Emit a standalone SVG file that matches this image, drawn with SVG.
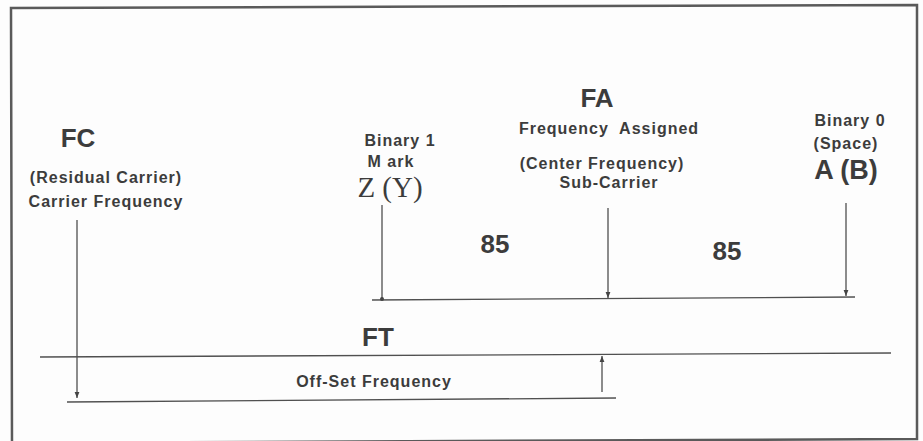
<svg xmlns="http://www.w3.org/2000/svg" width="923" height="441" viewBox="0 0 923 441">
<style>
.t{font-family:"Liberation Sans",Arial,sans-serif;font-weight:bold;fill:#3c3c3c;text-anchor:middle}
.s{font-size:16px;letter-spacing:1px}
.b{font-size:26px}
.ln{stroke:#505050;stroke-width:1.3;fill:none}
</style>
<defs>
<marker id="ah" viewBox="0 0 10 10" refX="10" refY="5" markerWidth="6" markerHeight="6" orient="auto" markerUnits="userSpaceOnUse">
<path d="M0,1 L10,5 L0,9 z" fill="#444"/>
</marker>
</defs>
<rect width="923" height="441" fill="#fdfdfd"/>
<polygon points="11,8 917,5 917,439 12,443" fill="none" stroke="#5a5a5a" stroke-width="2.5"/>

<g id="fc">
<text class="t b" x="78" y="147">FC</text>
<text class="t s" x="106" y="183">(Residual Carrier)</text>
<text class="t s" x="106" y="207">Carrier Frequency</text>
</g>
<g id="mark">
<text class="t s" x="400" y="146">Binary 1</text>
<text class="t s" x="391" y="167">M ark</text>
<text x="390" y="197" font-family="'Liberation Serif','Times New Roman',serif" font-size="29" fill="#3c3c3c" text-anchor="middle">Z (Y)</text>
</g>
<g id="fa">
<text class="t b" x="597" y="107">FA</text>
<text class="t s" x="609" y="134" xml:space="preserve">Frequency  Assigned</text>
<text class="t s" x="602" y="169">(Center Frequency)</text>
<text class="t s" x="609" y="188">Sub-Carrier</text>
</g>
<g id="space">
<text class="t s" x="850" y="126">Binary 0</text>
<text class="t s" x="846" y="149">(Space)</text>
<text class="t" x="846" y="179" font-size="27">A (B)</text>
</g>
<g id="ft">
<text class="t b" x="378" y="346">FT</text>
</g>
<g id="offset">
<text class="t s" x="374" y="387">Off-Set Frequency</text>
</g>
<g id="labels85">
<text class="t b" x="495" y="253">85</text>
<text class="t b" x="727" y="260">85</text>
</g>

<g id="connectors">
<line class="ln" x1="372" y1="300" x2="855" y2="297"/>
<line class="ln" x1="382" y1="205" x2="382" y2="299"/>
<circle cx="382" cy="299" r="2" fill="#444"/>
<line class="ln" x1="608" y1="208" x2="608" y2="298" marker-end="url(#ah)"/>
<line class="ln" x1="846" y1="203" x2="846" y2="296" marker-end="url(#ah)"/>
<line class="ln" x1="40" y1="357" x2="891" y2="353"/>
<line class="ln" x1="67" y1="402" x2="616" y2="398"/>
<line class="ln" x1="77" y1="220" x2="77" y2="398" marker-end="url(#ah)"/>
<line class="ln" x1="602" y1="392" x2="602" y2="356" marker-end="url(#ah)"/>
</g>
</svg>
